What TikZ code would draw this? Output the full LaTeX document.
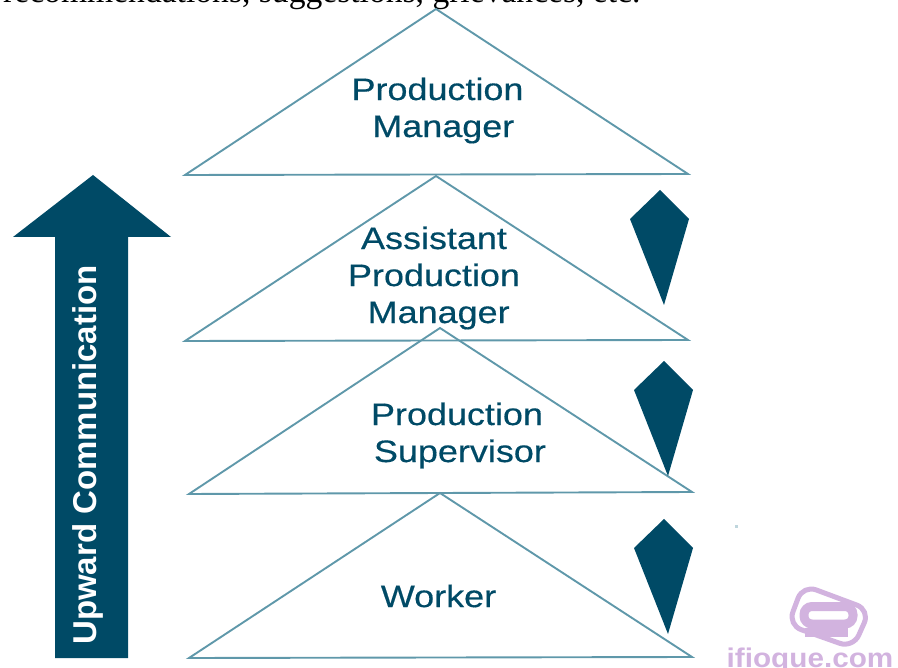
\documentclass[tikz,border=0pt]{standalone}
\usepackage{fontspec}
\setmainfont{Liberation Serif}
\setsansfont{Liberation Sans}
\newfontfamily\titlefont[FakeBold=0.4]{Liberation Sans}
\definecolor{rankline}{HTML}{5F98AA}
\definecolor{rankdark}{HTML}{004A66}
\definecolor{markpurple}{HTML}{D2B3DF}
\tikzset{
  rank/.style={draw=rankline, line width=1.9pt, line join=miter},
  kite/.style={fill=rankdark},
  title/.style={text=rankdark, font=\titlefont\fontsize{31}{36}\selectfont, align=center, xscale=1.16, inner sep=0pt},
}
\begin{document}
\begin{tikzpicture}[x=1pt, y=-1pt]
    \useasboundingbox (0,0) rectangle (898,668);
    \node[anchor=base west, inner sep=0pt, font=\fontsize{33.6}{38}\selectfont] (intro) at (3,2.5)
      {recommendations, suggestions, grievances, etc.};
    \foreach \ax/\ay/\lx/\ly/\rx/\ry in {436/9/185/175/688/174, 436/176/185/341/688/340, 440/328/189/494/692/492, 440/493/189/658/692/657} {
      \draw[rank] (\ax,\ay) -- (\lx,\ly) -- (\rx,\ry) -- cycle;
    }
    \foreach \dx/\dy in {0/0, 4/171, 4/329} {
      \fill[kite, shift={(\dx,\dy)}] (660,190) -- (689,219) -- (664,305) -- (630,219) -- cycle;
    }
    \node[title] (manager) at (437.5,110.5) {Production\\[1pt]\hspace*{10pt}Manager};
    \node[title] (assistant) at (434,278) {Assistant\\[1pt]Production\\[1pt]\hspace*{8pt}Manager};
    \node[title] (supervisor) at (457,435.5) {Production\\[1pt]\hspace*{5pt}Supervisor};
    \node[title] (worker) at (438.5,596) {Worker};
    \fill[rankdark] (93,175) -- (171,237) -- (128,237) -- (128,658) -- (55,658) -- (55,237) -- (13,237) -- cycle;
    \node[rotate=90, text=white, inner sep=0pt, font=\sffamily\bfseries\fontsize{33}{38}\selectfont] (upward) at (88,455) {Upward Communication};
    % watermark
    \fill[rankline!40] (735,525.5) rectangle (738,528.5);
    \draw[markpurple, line width=5pt, rounded corners=14pt] (803,585) -- (870,610) -- (853,648) -- (788,625) -- cycle;
    \draw[markpurple, line width=9pt, rounded corners=8pt] (804,606.5) rectangle (853,624);
    \fill[markpurple] (805,628) rectangle (848,637);
    \node[anchor=base, inner sep=0pt, text=markpurple, xscale=1.1, font=\sffamily\bfseries\fontsize{27}{32}\selectfont] (site) at (810,667) {ifioque.com};
  \end{tikzpicture}
\end{document}
